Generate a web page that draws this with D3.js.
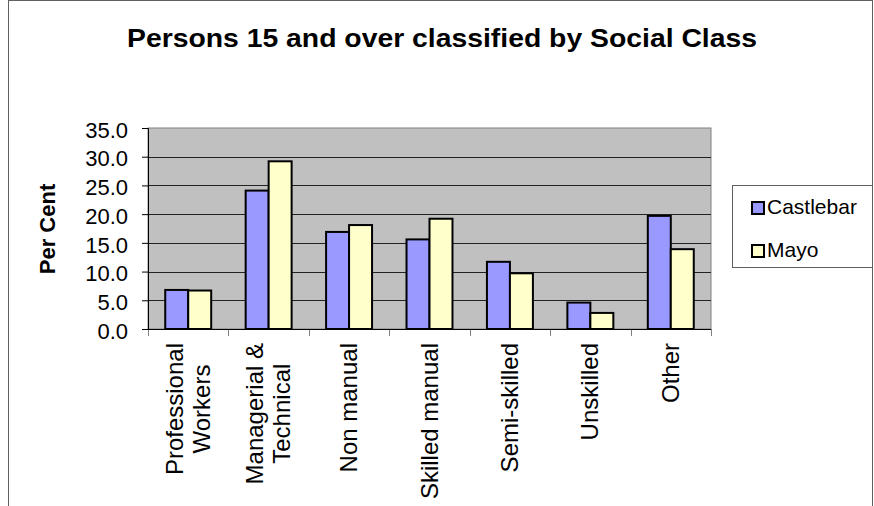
<!DOCTYPE html>
<html>
<head>
<meta charset="utf-8">
<script src="https://cdn.jsdelivr.net/npm/d3@7"></script>
<style>
  body { margin: 0; background: #fff; }
  svg { display: block; font-family: "Liberation Sans", Arial, sans-serif; }
</style>
</head>
<body>
<svg id="chart" width="874" height="506"></svg>
<script>
// chart data
let categories = [["Professional", "Workers"], ["Managerial &", "Technical"], ["Non manual"],
                  ["Skilled manual"], ["Semi-skilled"], ["Unskilled"], ["Other"]];
let seriesNames = ["Castlebar", "Mayo"];
let castlebar = [6.8, 24.1, 16.9, 15.6, 11.7, 4.6, 19.7];
let mayo      = [6.7, 29.2, 18.1, 19.2, 9.7, 2.8, 13.9];
let yTicks = [0, 5, 10, 15, 20, 25, 30, 35];
let colors = ["#9999FF", "#FFFFCC"];

let chart = d3.select("#chart");

// outer chart frame
chart.append("rect")
    .attr("x", 8.5).attr("y", 0.5)
    .attr("width", 864).attr("height", 520)
    .attr("fill", "#fff")
    .attr("stroke", "#606060");

// plot area
let plotLeft = 148, plotRight = 711, plotTop = 128, plotBottom = 329;

let x0 = d3.scaleBand()
    .domain(d3.range(categories.length))
    .range([plotLeft, plotRight])
    .padding(0);

let x1 = d3.scaleBand()
    .domain(seriesNames)
    .range([0, x0.bandwidth()])
    .paddingInner(0)
    .paddingOuter(0.75);

let y = d3.scaleLinear()
    .domain([0, 35])
    .range([plotBottom, plotTop]);

chart.append("rect")
    .attr("x", plotLeft).attr("y", plotTop)
    .attr("width", plotRight - plotLeft).attr("height", plotBottom - plotTop)
    .attr("fill", "#C0C0C0")
    .attr("stroke", "#808080");

// gridlines
chart.append("g")
    .selectAll("line")
    .data(yTicks.filter(d => d > 0 && d < 35))
    .enter()
    .append("line")
    .attr("x1", plotLeft).attr("x2", plotRight)
    .attr("y1", d => Math.round(y(d)) + 0.5)
    .attr("y2", d => Math.round(y(d)) + 0.5)
    .attr("stroke", "#222");

// y axis
let yAxis = d3.axisLeft(y)
    .tickValues(yTicks)
    .tickFormat(d3.format(".1f"))
    .tickSize(6)
    .tickPadding(14);
let yAxisGroup = chart.append("g")
    .attr("transform", "translate(" + plotLeft + ",0)")
    .call(yAxis);
yAxisGroup.select(".domain").attr("stroke", "#000");
yAxisGroup.selectAll(".tick line").attr("stroke", "#000");
yAxisGroup.selectAll(".tick text")
    .style("font-family", "'Liberation Sans', Arial, sans-serif")
    .style("font-size", "22px")
    .attr("fill", "#000")
    .attr("dy", "0.42em");

// x axis: ticks at category boundaries
let xEdges = d3.range(categories.length + 1).map(i => plotLeft + i * x0.step());
chart.append("g")
    .selectAll("line")
    .data(xEdges)
    .enter()
    .append("line")
    .attr("x1", d => Math.round(d) + 0.5).attr("x2", d => Math.round(d) + 0.5)
    .attr("y1", plotBottom).attr("y2", plotBottom + 7)
    .attr("stroke", "#808080");
chart.append("line")
    .attr("x1", plotLeft).attr("x2", plotRight)
    .attr("y1", plotBottom + 0.5).attr("y2", plotBottom + 0.5)
    .attr("stroke", "#000");

// bars
let groups = chart.append("g")
    .selectAll("g")
    .data(categories.map((c, i) => i))
    .enter()
    .append("g")
    .attr("transform", d => "translate(" + x0(d) + ",0)");

groups.selectAll("rect")
    .data(i => [{s: 0, v: castlebar[i]}, {s: 1, v: mayo[i]}])
    .enter()
    .append("rect")
    .attr("x", d => x1(seriesNames[d.s]))
    .attr("y", d => y(d.v))
    .attr("width", x1.bandwidth())
    .attr("height", d => y(0) - y(d.v))
    .attr("fill", d => colors[d.s])
    .attr("stroke", "#000")
    .attr("stroke-width", 2);

// category labels, rotated, centered lines
let catLabels = chart.append("g")
    .selectAll("text")
    .data(categories)
    .enter()
    .append("text")
    .style("font-size", "24px")
    .attr("text-anchor", "middle")
    .attr("fill", "#000");

catLabels.each(function(lines, i) {
    let t = d3.select(this);
    lines.forEach(function(line, j) {
        t.append("tspan")
            .attr("x", 0)
            .attr("y", (j - (lines.length - 1) / 2) * 27 + 8)
            .text(line);
    });
    let maxLen = d3.max(t.selectAll("tspan").nodes(), n => n.getComputedTextLength());
    let cx = x0(i) + x0.bandwidth() / 2;
    t.attr("transform", "translate(" + cx + "," + (343 + maxLen / 2) + ") rotate(-90)");
});

// y axis title
chart.append("text")
    .text("Per Cent")
    .attr("transform", "translate(55,229) rotate(-90)")
    .attr("text-anchor", "middle")
    .style("font-size", "22px")
    .style("font-weight", "bold")
    .attr("fill", "#000");

// chart title
chart.append("text")
    .text("Persons 15 and over classified by Social Class")
    .attr("x", 127)
    .attr("y", 47)
    .attr("textLength", 630)
    .attr("lengthAdjust", "spacingAndGlyphs")
    .style("font-size", "25px")
    .style("font-weight", "bold")
    .attr("fill", "#000");

// legend
let legend = chart.append("g");
legend.append("rect")
    .attr("x", 732.5).attr("y", 185.5)
    .attr("width", 140).attr("height", 82)
    .attr("fill", "#fff")
    .attr("stroke", "#606060");

legend.selectAll("rect.sw")
    .data(seriesNames)
    .enter()
    .append("rect")
    .attr("class", "sw")
    .attr("x", 752)
    .attr("y", (d, i) => 202 + i * 43)
    .attr("width", 12).attr("height", 12)
    .attr("fill", (d, i) => colors[i])
    .attr("stroke", "#000")
    .attr("stroke-width", 2);

legend.selectAll("text")
    .data(seriesNames)
    .enter()
    .append("text")
    .attr("x", 767)
    .attr("y", (d, i) => 214 + i * 43)
    .style("font-size", "21px")
    .attr("fill", "#000")
    .text(d => d);
</script>
</body>
</html>
